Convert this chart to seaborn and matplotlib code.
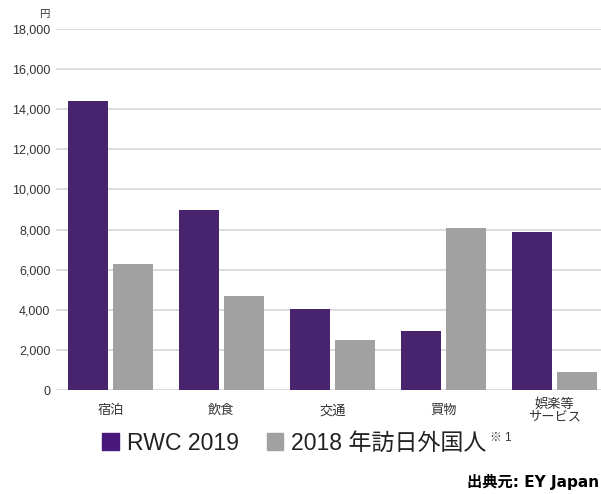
import matplotlib
matplotlib.use("Agg")
import matplotlib.pyplot as plt
import matplotlib.patches as mpatches
import pandas as pd
import seaborn as sns

# data (yen per person)
categories = ["宿泊", "飲食", "交通", "買物", "娯楽等\nサービス"]
rwc_2019 = [14400, 9000, 4050, 2950, 7900]
visitors_2018 = [6300, 4700, 2500, 8100, 900]
series_names = ["RWC 2019", "2018 年訪日外国人"]
yticks = [0, 2000, 4000, 6000, 8000, 10000, 12000, 14000, 16000, 18000]

purple = "#48187a"
grey = "#a0a1a0"

df = pd.DataFrame({
    "category": categories * 2,
    "series": [series_names[0]] * len(categories) + [series_names[1]] * len(categories),
    "value": rwc_2019 + visitors_2018,
})

sns.set_style("white")
plt.rcParams["font.family"] = ["Liberation Sans", "Noto Sans CJK JP", "DejaVu Sans"]

fig = plt.figure(figsize=(6.01, 4.94), dpi=100)
ax = fig.add_axes([56 / 601, 1 - 390 / 494, 545 / 601, 361 / 494])

sns.barplot(data=df, x="category", y="value", hue="series",
            palette=[purple, grey], width=0.8, gap=0.1, linewidth=0,
            ax=ax, legend=False, zorder=3)

ax.set_ylim(0, 18000)
ax.set_xlim(-0.491, 4.42)
ax.set_yticks(yticks)
ax.set_yticklabels([f"{v:,}" for v in yticks], fontsize=9, color="#333333")
ax.yaxis.grid(True, color="#d9d9d9", linewidth=1.3, zorder=0)
ax.xaxis.grid(False)
ax.set_xlabel("")
ax.set_ylabel("")
for s in ax.spines.values():
    s.set_visible(False)
ax.tick_params(axis="both", length=0)
ax.tick_params(axis="y", pad=4)
ax.tick_params(axis="x", pad=15)
for lab in ax.get_xticklabels():
    lab.set_fontsize(9.5)
    lab.set_color("#333333")
    lab.set_va("center")
    lab.set_linespacing(1.05)

# unit label
fig.text(44 / 601, 1 - 14 / 494, "円", fontsize=7.5, color="#333333",
         ha="center", va="center")

# legend
handles = [mpatches.Patch(color=purple, label=series_names[0]),
           mpatches.Patch(color=grey, label=series_names[1])]
leg = fig.legend(handles=handles, loc="center left", ncol=2, frameon=False,
                 bbox_to_anchor=(102 / 601, 1 - 443 / 494), fontsize=16.6,
                 handlelength=0.73, handleheight=0.73, handletextpad=0.35,
                 columnspacing=1.2, borderpad=0, borderaxespad=0,
                 labelcolor="#222222")

# footnote mark right after the second legend label
fig.canvas.draw()
bb = leg.get_texts()[1].get_window_extent().transformed(fig.transFigure.inverted())
fig.text(bb.x1 + 3 / 601, 1 - 438 / 494, "※ 1", fontsize=8.5, color="#333333",
         ha="left", va="center")

# source
fig.text(599 / 601, 1 - 482 / 494, "出典元: EY Japan", fontsize=11,
         fontweight="bold", ha="right", va="center", color="black",
         family=["DejaVu Sans", "Noto Sans CJK JP"])

fig.savefig("out.png", dpi=100)
